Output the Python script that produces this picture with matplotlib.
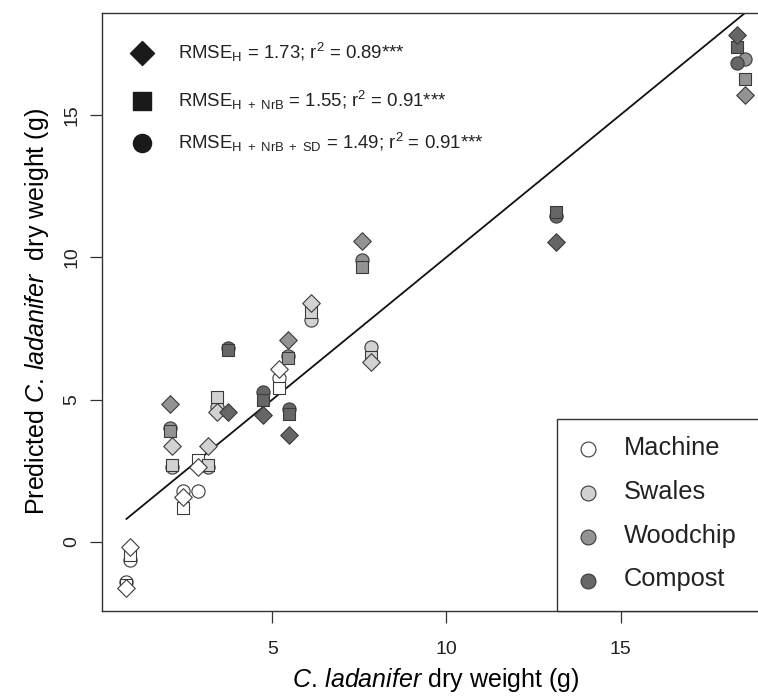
import matplotlib
matplotlib.use("Agg")
import matplotlib.pyplot as plt
from matplotlib.patches import Rectangle

plt.rcParams.update({
    "font.family": ["Liberation Sans", "DejaVu Sans"],
    "mathtext.fontset": "custom",
    "mathtext.rm": "Liberation Sans",
    "mathtext.it": "Liberation Sans:italic",
    "mathtext.bf": "Liberation Sans:bold",
    "mathtext.sf": "Liberation Sans",
    "text.color": "#222222",
    "axes.edgecolor": "#333333",
    "xtick.color": "#333333",
    "ytick.color": "#333333",
    "xtick.labelcolor": "#222222",
    "ytick.labelcolor": "#222222",
})

# ---- data: observed dry weight vs predicted, three models per plant ----
GROUPS = ["Machine", "Swales", "Woodchip", "Compost"]
GROUP_COLORS = ["#ffffff", "#d2d2d2", "#939393", "#666666"]

machine_x   = [0.92, 0.81, 2.44, 2.86, 5.19]
machine_h   = [-0.17, -1.63, 1.59, 2.63, 6.06]
machine_nrb = [-0.46, -1.51, 1.18, 2.88, 5.40]
machine_sd  = [-0.63, -1.39, 1.80, 1.80, 5.75]

swales_x   = [2.13, 3.16, 3.41, 6.11, 7.83]
swales_h   = [3.38, 3.38, 4.56, 8.38, 6.31]
swales_nrb = [2.70, 2.70, 5.10, 8.09, 6.51]
swales_sd  = [2.63, 2.63, 4.75, 7.79, 6.86]

woodchip_x   = [2.07, 5.46, 7.56, 18.58]
woodchip_h   = [4.85, 7.08, 10.58, 15.70]
woodchip_nrb = [3.88, 6.45, 9.67, 16.25]
woodchip_sd  = [4.00, 6.53, 9.90, 16.95]

compost_x   = [3.72, 4.73, 5.47, 13.14, 18.34]
compost_h   = [4.55, 4.46, 3.76, 10.54, 17.80]
compost_nrb = [6.74, 4.99, 4.49, 11.60, 17.39]
compost_sd  = [6.81, 5.28, 4.67, 11.45, 16.81]

# 1:1 reference line, drawn over the observed range
LINE_X = [0.81, 18.58]
LINE_Y = [0.81, 18.58]

MODEL_SUBS = ["H", r"H\ +\ NrB", r"H\ +\ NrB\ +\ SD"]
MODEL_RMSE = [1.73, 1.55, 1.49]
MODEL_R2 = [0.89, 0.91, 0.91]

X_TICKS = [5, 10, 15]
Y_TICKS = [0, 5, 10, 15]

xs = [machine_x, swales_x, woodchip_x, compost_x]
preds = {
    "sd":  [machine_sd, swales_sd, woodchip_sd, compost_sd],
    "nrb": [machine_nrb, swales_nrb, woodchip_nrb, compost_nrb],
    "h":   [machine_h, swales_h, woodchip_h, compost_h],
}
# circles first, squares on top, diamonds last
MARKERS = [("sd", "o", 90), ("nrb", "s", 82), ("h", "D", 80)]

fig = plt.figure(figsize=(7.58, 6.98), dpi=100)
ax = fig.add_axes([0.1346, 0.1251, 0.8813, 0.8559])

ax.plot(LINE_X, LINE_Y, color="#111111", lw=1.3, zorder=2)

for key, mk, size in MARKERS:
    for gx, gy, col in zip(xs, preds[key], GROUP_COLORS):
        ax.scatter(gx, gy, marker=mk, s=size, facecolor=col,
                   edgecolor="#3a3a3a", linewidth=0.8, zorder=3)

ax.set_xlim(0.11, 19.29)
ax.set_ylim(-2.41, 18.56)
ax.set_xticks(X_TICKS)
ax.set_yticks(Y_TICKS)
ax.tick_params(direction="out", length=8.6, width=0.9, labelsize=14)
ax.tick_params(axis="x", pad=13)
ax.tick_params(axis="y", pad=7)
for lab in ax.get_yticklabels():
    lab.set_rotation(90)
    lab.set_va("center")
for sp in ax.spines.values():
    sp.set_linewidth(1.0)

ax.set_xlabel(r"$\mathit{C.\,ladanifer}$ dry weight (g)",
              fontsize=18, labelpad=6)
ax.set_ylabel(r"Predicted $\mathit{C.\,ladanifer}$  dry weight (g)",
              fontsize=18, labelpad=9)

# model key, top left
key_rows = [0.9331, 0.8532, 0.7824]
key_marks = [("D", 150), ("s", 150), ("o", 170)]
for (mk, size), yy, sub, rmse, r2 in zip(key_marks, key_rows, MODEL_SUBS,
                                         MODEL_RMSE, MODEL_R2):
    ax.scatter([0.0594], [yy], marker=mk, s=size, color="#1a1a1a",
               transform=ax.transAxes, clip_on=False, zorder=4)
    ax.text(0.1138, yy - 0.0099,
            rf"RMSE$_{{\mathrm{{{sub}}}}}$ = {rmse:.2f}; r$^{{\mathrm{{2}}}}$ = {r2:.2f}***",
            transform=ax.transAxes, fontsize=13.4, va="baseline", ha="left")

# group legend, bottom right (box runs past the figure edge)
ax.add_patch(Rectangle((0.6807, 0.0), 0.4, 0.3209, transform=ax.transAxes,
                       facecolor="white", edgecolor="#333333", lw=1.0,
                       clip_on=False, zorder=5))
leg_rows = [0.2705, 0.1969, 0.1232, 0.0505]
for name, col, yy in zip(GROUPS, GROUP_COLORS, leg_rows):
    ax.scatter([0.728], [yy], marker="o", s=115, facecolor=col,
               edgecolor="#3a3a3a", linewidth=0.8, transform=ax.transAxes,
               clip_on=False, zorder=6)
    ax.text(0.7814, yy - 0.0092, name, transform=ax.transAxes,
            fontsize=18.3, va="baseline", ha="left", zorder=6)

fig.savefig("out.png", dpi=100)
